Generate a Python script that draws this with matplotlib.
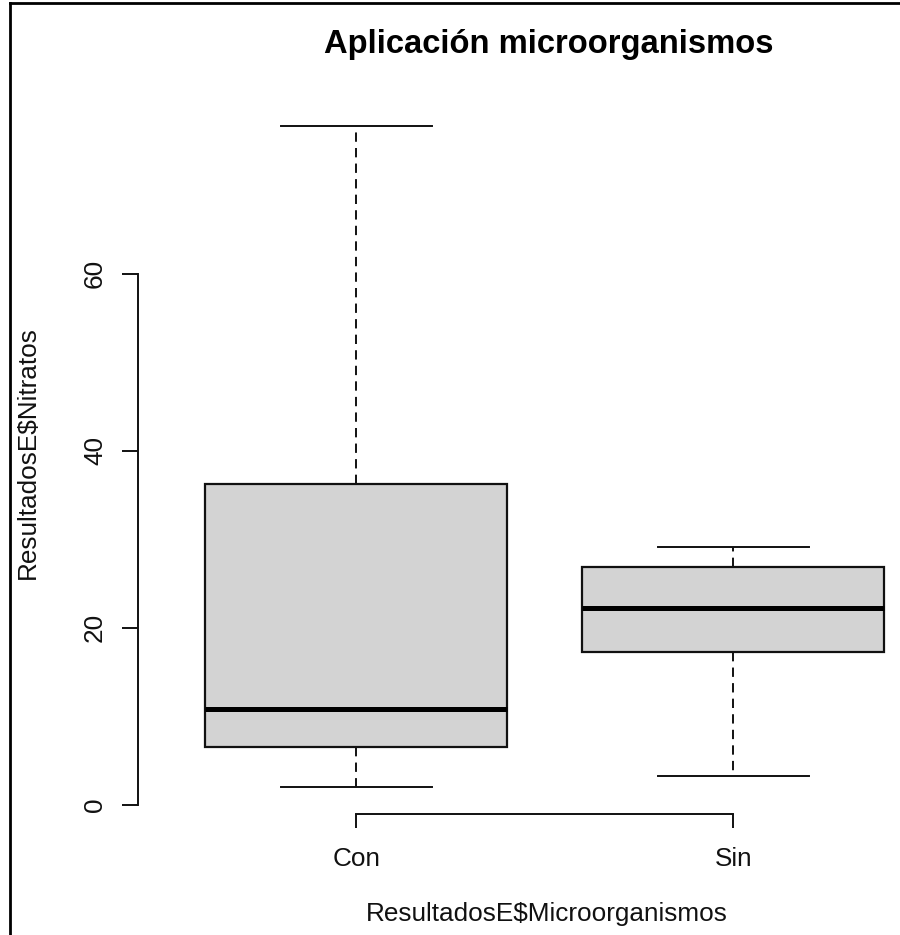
import matplotlib
matplotlib.use("Agg")
import matplotlib.pyplot as plt
from matplotlib.lines import Line2D

plt.rcParams['font.family'] = ['Liberation Sans', 'DejaVu Sans']

# Five-number summaries of nitrate results per treatment group
groups = ["Con", "Sin"]
whisker_low = [2.0, 3.3]
q1 = [6.6, 17.3]
median = [10.9, 22.2]
q3 = [36.3, 26.9]
whisker_high = [76.7, 29.1]
y_ticks = [0, 20, 40, 60]

title = "Aplicación microorganismos"
x_title = "ResultadosE$Microorganismos"
y_title = "ResultadosE$Nitratos"

W, H = 900, 935
fig = plt.figure(figsize=(W / 100, H / 100), dpi=100)

# plot region in pixels
left_px, right_px, top_px, bottom_px = 137.5, 900.0, 99.2, 813.8
ax = fig.add_axes([left_px / W, (H - bottom_px) / H,
                   (right_px - left_px) / W, (bottom_px - top_px) / H])

stats = []
for i, g in enumerate(groups):
    stats.append(dict(label=g, whislo=whisker_low[i], q1=q1[i], med=median[i],
                      q3=q3[i], whishi=whisker_high[i], fliers=[]))

ink = "#111111"
ax.bxp(stats, positions=[1, 2], widths=0.8, capwidths=0.4,
       patch_artist=True, showfliers=False,
       boxprops=dict(facecolor="#d3d3d3", edgecolor=ink, linewidth=1.6),
       medianprops=dict(color="black", linewidth=3.6, solid_capstyle="butt"),
       whiskerprops=dict(color=ink, linewidth=1.4, linestyle=(0, (4.8, 3.2))),
       capprops=dict(color=ink, linewidth=1.4))

# axis ranges extended by 4% like base graphics
lo, hi = min(whisker_low), max(whisker_high)
pad = 0.04 * (hi - lo)
ax.set_ylim(lo - pad, hi + pad)
x_per_px = 2.16 / (952.0 - 137.5)
ax.set_xlim(0.42, 0.42 + (right_px - left_px) * x_per_px)

for s in ["top", "right"]:
    ax.spines[s].set_visible(False)
ax.spines["left"].set_bounds(y_ticks[0], y_ticks[-1])
ax.spines["bottom"].set_bounds(1, 2)
for s in ["left", "bottom"]:
    ax.spines[s].set_color(ink)
    ax.spines[s].set_linewidth(1.4)

ax.set_yticks(y_ticks)
ax.set_yticklabels([str(t) for t in y_ticks], rotation=90, va="center")
ax.set_xticks([1, 2])
ax.set_xticklabels(groups)
ax.tick_params(axis="y", length=11.5, width=1.4, color=ink, labelsize=18.8,
               labelcolor=ink, pad=10.5)
ax.tick_params(axis="x", length=10, width=1.4, color=ink, labelsize=18.8,
               labelcolor=ink, pad=14)
ax.patch.set_visible(False)

fig.text(548.5 / W, 1 - 44 / H, title, ha="center", va="center",
         fontsize=23.6, fontweight="bold", color="black")
fig.text(547 / W, 1 - 914 / H, x_title, ha="center", va="center",
         fontsize=18.8, color=ink)
fig.text(28 / W, 1 - 453 / H, y_title, ha="center", va="center",
         rotation=90, fontsize=18.8, color=ink)

# frame lines along the top and left edges
fig.add_artist(Line2D([9.5 / W, 1.0], [1 - 2.5 / H, 1 - 2.5 / H],
                      transform=fig.transFigure, color="black", linewidth=2))
fig.add_artist(Line2D([9.5 / W, 9.5 / W], [0.0, 1 - 2.5 / H],
                      transform=fig.transFigure, color="black", linewidth=2))

fig.savefig("out.png", dpi=100, facecolor="white")
